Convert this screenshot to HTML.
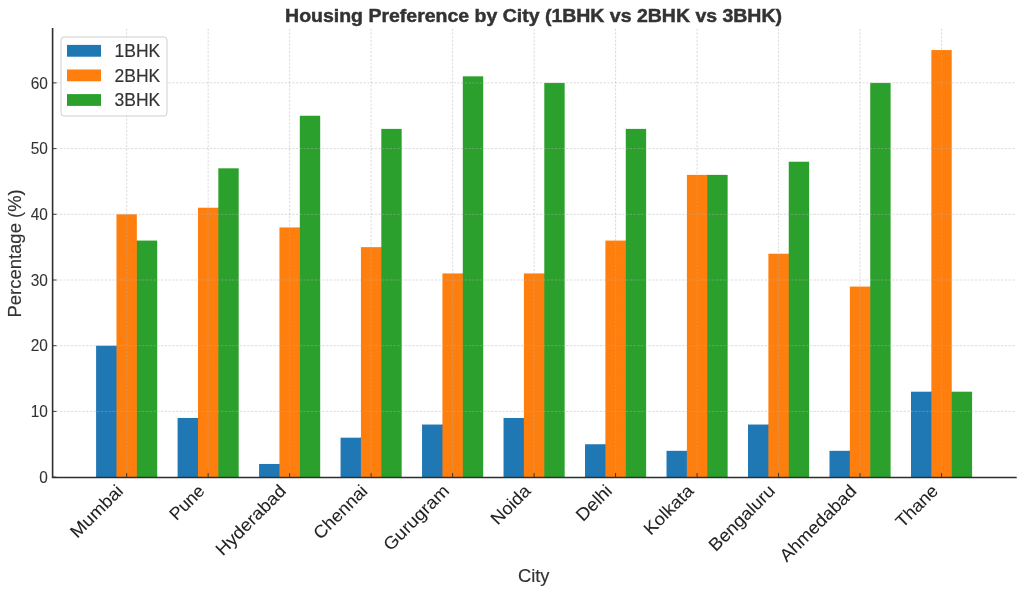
<!DOCTYPE html><html><head><meta charset="utf-8"><title>Housing Preference by City</title><style>html,body{margin:0;padding:0;background:#fff;width:1024px;height:594px;overflow:hidden}svg{display:block;will-change:transform}text{font-family:"Liberation Sans",sans-serif}</style></head><body>
<svg width="1024" height="594" viewBox="0 0 1024 594">
<rect x="0" y="0" width="1024" height="594" fill="#fff"/>
<g fill="#1f77b4">
<rect x="96.10" y="345.70" width="20.37" height="131.40"/>
<rect x="177.59" y="417.97" width="20.37" height="59.13"/>
<rect x="259.08" y="463.96" width="20.37" height="13.14"/>
<rect x="340.57" y="437.68" width="20.37" height="39.42"/>
<rect x="422.05" y="424.54" width="20.37" height="52.56"/>
<rect x="503.54" y="417.97" width="20.37" height="59.13"/>
<rect x="585.03" y="444.25" width="20.37" height="32.85"/>
<rect x="666.52" y="450.82" width="20.37" height="26.28"/>
<rect x="748.01" y="424.54" width="20.37" height="52.56"/>
<rect x="829.50" y="450.82" width="20.37" height="26.28"/>
<rect x="910.98" y="391.69" width="20.37" height="85.41"/>
<rect x="115.87" y="345.70" width="1.2" height="131.40"/>
<rect x="197.36" y="417.97" width="1.2" height="59.13"/>
<rect x="278.85" y="463.96" width="1.2" height="13.14"/>
<rect x="360.34" y="437.68" width="1.2" height="39.42"/>
<rect x="441.83" y="424.54" width="1.2" height="52.56"/>
<rect x="523.31" y="417.97" width="1.2" height="59.13"/>
<rect x="604.80" y="444.25" width="1.2" height="32.85"/>
<rect x="686.29" y="450.82" width="1.2" height="26.28"/>
<rect x="767.78" y="424.54" width="1.2" height="52.56"/>
<rect x="849.27" y="450.82" width="1.2" height="26.28"/>
<rect x="930.76" y="391.69" width="1.2" height="85.41"/>
</g>
<g fill="#ff7f0e">
<rect x="116.47" y="214.30" width="20.37" height="262.80"/>
<rect x="197.96" y="207.73" width="20.37" height="269.37"/>
<rect x="279.45" y="227.44" width="20.37" height="249.66"/>
<rect x="360.94" y="247.15" width="20.37" height="229.95"/>
<rect x="442.43" y="273.43" width="20.37" height="203.67"/>
<rect x="523.91" y="273.43" width="20.37" height="203.67"/>
<rect x="605.40" y="240.58" width="20.37" height="236.52"/>
<rect x="686.89" y="174.88" width="20.37" height="302.22"/>
<rect x="768.38" y="253.72" width="20.37" height="223.38"/>
<rect x="849.87" y="286.57" width="20.37" height="190.53"/>
<rect x="931.36" y="50.05" width="20.37" height="427.05"/>
<rect x="136.24" y="240.58" width="1.2" height="236.52"/>
<rect x="217.73" y="207.73" width="1.2" height="269.37"/>
<rect x="299.22" y="227.44" width="1.2" height="249.66"/>
<rect x="380.71" y="247.15" width="1.2" height="229.95"/>
<rect x="462.20" y="273.43" width="1.2" height="203.67"/>
<rect x="543.69" y="273.43" width="1.2" height="203.67"/>
<rect x="625.17" y="240.58" width="1.2" height="236.52"/>
<rect x="706.66" y="174.88" width="1.2" height="302.22"/>
<rect x="788.15" y="253.72" width="1.2" height="223.38"/>
<rect x="869.64" y="286.57" width="1.2" height="190.53"/>
<rect x="951.13" y="391.69" width="1.2" height="85.41"/>
</g>
<g fill="#2ca02c">
<rect x="136.84" y="240.58" width="20.37" height="236.52"/>
<rect x="218.33" y="168.31" width="20.37" height="308.79"/>
<rect x="299.82" y="115.75" width="20.37" height="361.35"/>
<rect x="381.31" y="128.89" width="20.37" height="348.21"/>
<rect x="462.80" y="76.33" width="20.37" height="400.77"/>
<rect x="544.29" y="82.90" width="20.37" height="394.20"/>
<rect x="625.77" y="128.89" width="20.37" height="348.21"/>
<rect x="707.26" y="174.88" width="20.37" height="302.22"/>
<rect x="788.75" y="161.74" width="20.37" height="315.36"/>
<rect x="870.24" y="82.90" width="20.37" height="394.20"/>
<rect x="951.73" y="391.69" width="20.37" height="85.41"/>
</g>
<path d="M52.30 411.40H1015.90M52.30 345.70H1015.90M52.30 280.00H1015.90M52.30 214.30H1015.90M52.30 148.60H1015.90M52.30 82.90H1015.90M126.66 477.10V28.70M208.15 477.10V28.70M289.63 477.10V28.70M371.12 477.10V28.70M452.61 477.10V28.70M534.10 477.10V28.70M615.59 477.10V28.70M697.08 477.10V28.70M778.57 477.10V28.70M860.05 477.10V28.70M941.54 477.10V28.70" fill="none" stroke="#b0b0b0" stroke-opacity="0.72" stroke-width="0.65" stroke-dasharray="2.2 1.55"/>
<path d="M52.30 477.10h4.15M52.30 411.40h4.15M52.30 345.70h4.15M52.30 280.00h4.15M52.30 214.30h4.15M52.30 148.60h4.15M52.30 82.90h4.15M126.66 477.10v-4.15M208.15 477.10v-4.15M289.63 477.10v-4.15M371.12 477.10v-4.15M452.61 477.10v-4.15M534.10 477.10v-4.15M615.59 477.10v-4.15M697.08 477.10v-4.15M778.57 477.10v-4.15M860.05 477.10v-4.15M941.54 477.10v-4.15" fill="none" stroke="#333" stroke-width="0.95"/>
<path d="M52.60 28.70V477.45H1015.90" fill="none" stroke="#2e2e2e" stroke-width="1.6" stroke-linecap="square"/>
<rect x="61" y="37" width="106" height="79" rx="3" ry="3" fill="#fff" fill-opacity="0.8" stroke="#cccccc" stroke-width="0.95"/>
<rect x="67" y="44.90" width="34" height="11.8" fill="#1f77b4"/>
<text x="114.5" y="57.00" font-size="17.59" fill="#333" stroke="#333" stroke-width="0.15" textLength="45.75" lengthAdjust="spacingAndGlyphs">1BHK</text>
<rect x="67" y="69.50" width="34" height="11.8" fill="#ff7f0e"/>
<text x="114.5" y="81.60" font-size="17.59" fill="#333" stroke="#333" stroke-width="0.15" textLength="45.75" lengthAdjust="spacingAndGlyphs">2BHK</text>
<rect x="67" y="94.10" width="34" height="11.8" fill="#2ca02c"/>
<text x="114.5" y="106.20" font-size="17.59" fill="#333" stroke="#333" stroke-width="0.15" textLength="45.75" lengthAdjust="spacingAndGlyphs">3BHK</text>
<text x="47.90" y="482.85" font-size="15.64" fill="#333" stroke="#333" stroke-width="0.08" text-anchor="end" textLength="8.60" lengthAdjust="spacingAndGlyphs">0</text>
<text x="47.90" y="417.15" font-size="15.64" fill="#333" stroke="#333" stroke-width="0.08" text-anchor="end" textLength="17.19" lengthAdjust="spacingAndGlyphs">10</text>
<text x="47.90" y="351.45" font-size="15.64" fill="#333" stroke="#333" stroke-width="0.08" text-anchor="end" textLength="17.19" lengthAdjust="spacingAndGlyphs">20</text>
<text x="47.90" y="285.75" font-size="15.64" fill="#333" stroke="#333" stroke-width="0.08" text-anchor="end" textLength="17.19" lengthAdjust="spacingAndGlyphs">30</text>
<text x="47.90" y="220.05" font-size="15.64" fill="#333" stroke="#333" stroke-width="0.08" text-anchor="end" textLength="17.19" lengthAdjust="spacingAndGlyphs">40</text>
<text x="47.90" y="154.35" font-size="15.64" fill="#333" stroke="#333" stroke-width="0.08" text-anchor="end" textLength="17.19" lengthAdjust="spacingAndGlyphs">50</text>
<text x="47.90" y="88.65" font-size="15.64" fill="#333" stroke="#333" stroke-width="0.08" text-anchor="end" textLength="17.19" lengthAdjust="spacingAndGlyphs">60</text>
<text transform="translate(124.22 492.02) rotate(-45)" x="0" y="0" font-size="17.59" fill="#222" stroke="#222" stroke-width="0.06" text-anchor="end" textLength="66.31" lengthAdjust="spacingAndGlyphs">Mumbai</text>
<text transform="translate(205.71 492.02) rotate(-45)" x="0" y="0" font-size="17.59" fill="#222" stroke="#222" stroke-width="0.06" text-anchor="end" textLength="41.25" lengthAdjust="spacingAndGlyphs">Pune</text>
<text transform="translate(287.19 492.02) rotate(-45)" x="0" y="0" font-size="17.59" fill="#222" stroke="#222" stroke-width="0.06" text-anchor="end" textLength="91.26" lengthAdjust="spacingAndGlyphs">Hyderabad</text>
<text transform="translate(368.68 492.02) rotate(-45)" x="0" y="0" font-size="17.59" fill="#222" stroke="#222" stroke-width="0.06" text-anchor="end" textLength="68.12" lengthAdjust="spacingAndGlyphs">Chennai</text>
<text transform="translate(450.17 492.02) rotate(-45)" x="0" y="0" font-size="17.59" fill="#222" stroke="#222" stroke-width="0.06" text-anchor="end" textLength="84.40" lengthAdjust="spacingAndGlyphs">Gurugram</text>
<text transform="translate(531.66 492.02) rotate(-45)" x="0" y="0" font-size="17.59" fill="#222" stroke="#222" stroke-width="0.06" text-anchor="end" textLength="47.87" lengthAdjust="spacingAndGlyphs">Noida</text>
<text transform="translate(613.15 492.02) rotate(-45)" x="0" y="0" font-size="17.59" fill="#222" stroke="#222" stroke-width="0.06" text-anchor="end" textLength="42.72" lengthAdjust="spacingAndGlyphs">Delhi</text>
<text transform="translate(694.64 492.02) rotate(-45)" x="0" y="0" font-size="17.59" fill="#222" stroke="#222" stroke-width="0.06" text-anchor="end" textLength="62.09" lengthAdjust="spacingAndGlyphs">Kolkata</text>
<text transform="translate(776.12 492.02) rotate(-45)" x="0" y="0" font-size="17.59" fill="#222" stroke="#222" stroke-width="0.06" text-anchor="end" textLength="85.27" lengthAdjust="spacingAndGlyphs">Bengaluru</text>
<text transform="translate(857.61 492.02) rotate(-45)" x="0" y="0" font-size="17.59" fill="#222" stroke="#222" stroke-width="0.06" text-anchor="end" textLength="100.17" lengthAdjust="spacingAndGlyphs">Ahmedabad</text>
<text transform="translate(939.10 492.02) rotate(-45)" x="0" y="0" font-size="17.59" fill="#222" stroke="#222" stroke-width="0.06" text-anchor="end" textLength="51.54" lengthAdjust="spacingAndGlyphs">Thane</text>
<text x="533.55" y="21.60" font-size="17.59" font-weight="bold" fill="#333" stroke="#333" stroke-width="0.45" text-anchor="middle" textLength="496.95" lengthAdjust="spacingAndGlyphs">Housing Preference by City (1BHK vs 2BHK vs 3BHK)</text>
<text x="533.70" y="582.00" font-size="17.59" fill="#333" stroke="#333" stroke-width="0.15" text-anchor="middle" textLength="31.55" lengthAdjust="spacingAndGlyphs">City</text>
<text transform="translate(20.90 253.40) rotate(-90)" x="0" y="0" font-size="17.59" fill="#333" stroke="#333" stroke-width="0.15" text-anchor="middle" textLength="128.28" lengthAdjust="spacingAndGlyphs">Percentage (%)</text>
</svg></body></html>
